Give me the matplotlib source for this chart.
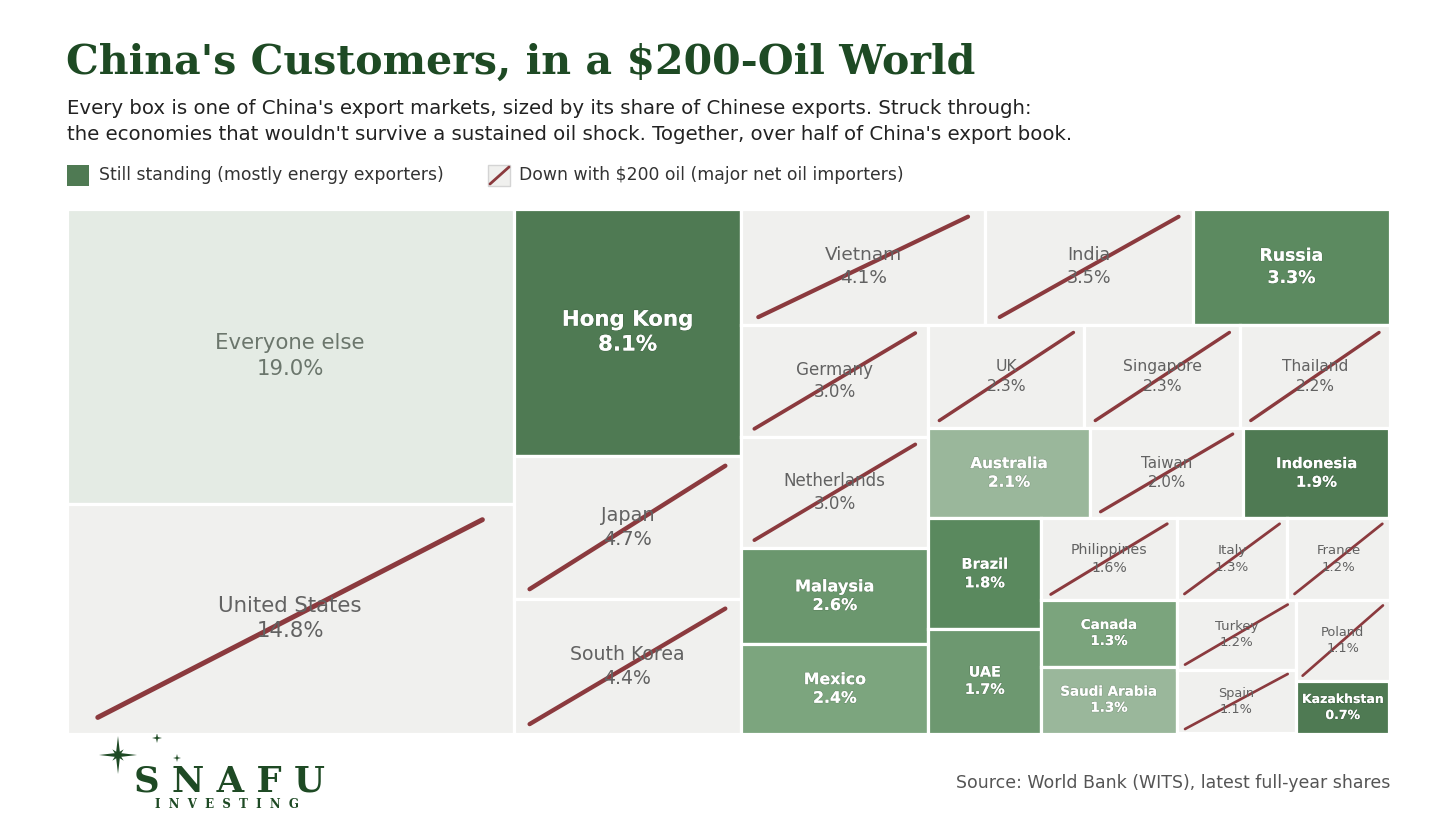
import numpy as np
import matplotlib
matplotlib.use("Agg")
import matplotlib.pyplot as plt
from matplotlib.patches import Rectangle, Polygon
import matplotlib.patheffects as pe

# Данные: доли экспорта Китая (%)
names = ["Everyone else", "United States", "Hong Kong", "Japan", "South Korea",
         "Vietnam", "India", "Russia", "Germany", "Netherlands", "Malaysia",
         "Mexico", "UK", "Singapore", "Thailand", "Australia", "Taiwan",
         "Indonesia", "Brazil", "UAE", "Philippines", "Canada", "Saudi Arabia",
         "Italy", "France", "Turkey", "Spain", "Poland", "Kazakhstan"]
shares = [19.0, 14.8, 8.1, 4.7, 4.4, 4.1, 3.5, 3.3, 3.0, 3.0, 2.6, 2.4, 2.3,
          2.3, 2.2, 2.1, 2.0, 1.9, 1.8, 1.7, 1.6, 1.3, 1.3, 1.3, 1.2, 1.2,
          1.1, 1.1, 0.7]
# "rest" = everyone else, "down" = struck through, "up" = still standing
status = ["rest", "down", "up", "down", "down", "down", "down", "up", "down",
          "down", "up", "up", "down", "down", "down", "up", "down", "up", "up",
          "up", "down", "up", "up", "down", "down", "down", "down", "down", "up"]

# Цвета
green_shade = {"Hong Kong": "#4f7a53", "Russia": "#5c8a60", "Indonesia": "#4f7a53",
               "Kazakhstan": "#4f7a53", "Brazil": "#5a895e", "Malaysia": "#6b976e",
               "UAE": "#6d9870", "Mexico": "#7ca57e", "Canada": "#7ba47d",
               "Australia": "#9ab79b", "Saudi Arabia": "#9ab79b"}
GREY = "#f0f0ee"
REST = "#e4ebe4"
RED = "#8b3a3e"
DARK = "#1e4a24"

W, H = 1456, 819
ASPECT = 1.64   # пространство раскладки (ширина / высота)


def worst(row, side):
    s = sum(row)
    return max(max(s * s / (side * side * r), side * side * r / (s * s)) for r in row)


def squarify(areas, x, y, w, h):
    rects = []
    i = 0
    while i < len(areas):
        side = min(w, h)
        row = [areas[i]]
        j = i + 1
        while j < len(areas) and worst(row + [areas[j]], side) <= worst(row, side):
            row.append(areas[j])
            j += 1
        s = sum(row)
        if w >= h:
            cw = s / h
            yy = y
            for r in row:
                rects.append((x, yy, cw, r / cw))
                yy += r / cw
            x += cw
            w -= cw
        else:
            rh = s / w
            xx = x
            for r in row:
                rects.append((xx, y, r / rh, rh))
                xx += r / rh
            y += rh
            h -= rh
        i = j
    return rects


def fx(x):
    return x / W


def fy(y):
    return 1 - y / H


fig = plt.figure(figsize=(W / 100, H / 100), dpi=100)

# Заголовок и подзаголовок
fig.text(fx(66), fy(63), "China's Customers, in a $200-Oil World", fontsize=29.6,
         fontweight="bold", family="DejaVu Serif", color=DARK, va="center", ha="left")
fig.text(fx(67), fy(121.5), "Every box is one of China's export markets, sized by its share of Chinese exports. Struck through:\n"
         "the economies that wouldn't survive a sustained oil shock. Together, over half of China's export book.",
         fontsize=14.2, color="#222222", va="center", ha="left", linespacing=1.42)

# Легенда
ax_leg = fig.add_axes([0, 0, 1, 1])
ax_leg.set_xlim(0, W)
ax_leg.set_ylim(H, 0)
ax_leg.axis("off")
ax_leg.add_patch(Rectangle((67, 165), 22, 21, facecolor="#4f7a53", edgecolor="none"))
ax_leg.text(99, 175.5, "Still standing (mostly energy exporters)", fontsize=12.45,
            color="#333333", va="center", ha="left")
ax_leg.add_patch(Rectangle((488, 165), 22, 21, facecolor=GREY, edgecolor="#d4d4d4", lw=1))
ax_leg.plot([490, 509], [184, 167], color=RED, lw=2, solid_capstyle="round")
ax_leg.text(519, 175.5, "Down with $200 oil (major net oil importers)", fontsize=12.45,
            color="#333333", va="center", ha="left")

# Логотип
def star(cx, cy, r_out, r_in, n=4, rot=90):
    pts = []
    for k in range(2 * n):
        ang = np.deg2rad(rot + k * 180 / n)
        r = r_out if k % 2 == 0 else r_in
        pts.append((cx + r * np.cos(ang), cy - r * np.sin(ang)))
    return Polygon(pts, closed=True, facecolor=DARK, edgecolor="none")

ax_leg.add_patch(star(118, 755, 19, 2.8))
ax_leg.add_patch(star(118, 755, 8, 2.2, rot=45))
ax_leg.add_patch(star(157, 738, 5, 1.3))
ax_leg.add_patch(star(177, 758, 4, 1.1))
ax_leg.text(229, 781, "S N A F U", fontsize=25.5, fontweight="bold", family="DejaVu Serif",
            color=DARK, va="center", ha="center")
ax_leg.text(227, 804, "I  N  V  E  S  T  I  N  G", fontsize=8.5, fontweight="bold",
            family="DejaVu Serif", color=DARK, va="center", ha="center")

# Источник
ax_leg.text(1390, 783, "Source: World Bank (WITS), latest full-year shares", fontsize=12.5,
            color="#555555", va="center", ha="right")

# Treemap
x0, y0, x1, y1 = 66.5, 208.5, 1389.5, 733.5
ax = fig.add_axes([fx(x0), fy(y1), fx(x1) - fx(x0), (y1 - y0) / H])
ax.set_xlim(0, ASPECT)
ax.set_ylim(1, 0)
ax.axis("off")
sx = (x1 - x0) / ASPECT
sy = (y1 - y0)

areas = [v * ASPECT / sum(shares) for v in shares]
rects = squarify(areas, 0.0, 0.0, ASPECT, 1.0)

for name, v, st, (rx, ry, rw, rh) in zip(names, shares, status, rects):
    wpx, hpx = rw * sx, rh * sy
    size_px = np.sqrt(wpx * hpx)
    if st == "up":
        fc = green_shade[name]
    elif st == "rest":
        fc = REST
    else:
        fc = GREY
    ax.add_patch(Rectangle((rx, ry), rw, rh, facecolor=fc, edgecolor="white", lw=2.3))
    fs_px = min(21.3, max(12.5, 7 + 0.068 * size_px))
    label = f"{name}\n{v:.1f}%"
    cx, cy = rx + rw / 2, ry + rh / 2
    if st == "up":
        ax.text(cx, cy, label, ha="center", va="center", fontsize=fs_px * 0.72,
                fontweight="bold", color="white", linespacing=1.3,
                path_effects=[pe.withStroke(linewidth=1.0, foreground=(0, 0, 0, 0.12))])
    else:
        col = "#6b766c" if st == "rest" else "#626262"
        ax.text(cx, cy, label, ha="center", va="center", fontsize=fs_px * 0.72,
                color=col, linespacing=1.35)
    if st == "down":
        lw_px = min(5.0, 1.0 + 0.019 * size_px)
        ax.plot([rx + 0.07 * rw, rx + 0.93 * rw], [ry + 0.93 * rh, ry + 0.07 * rh],
                color=RED, lw=lw_px * 0.72, solid_capstyle="round")

fig.savefig("out.png", dpi=100, facecolor="white")
